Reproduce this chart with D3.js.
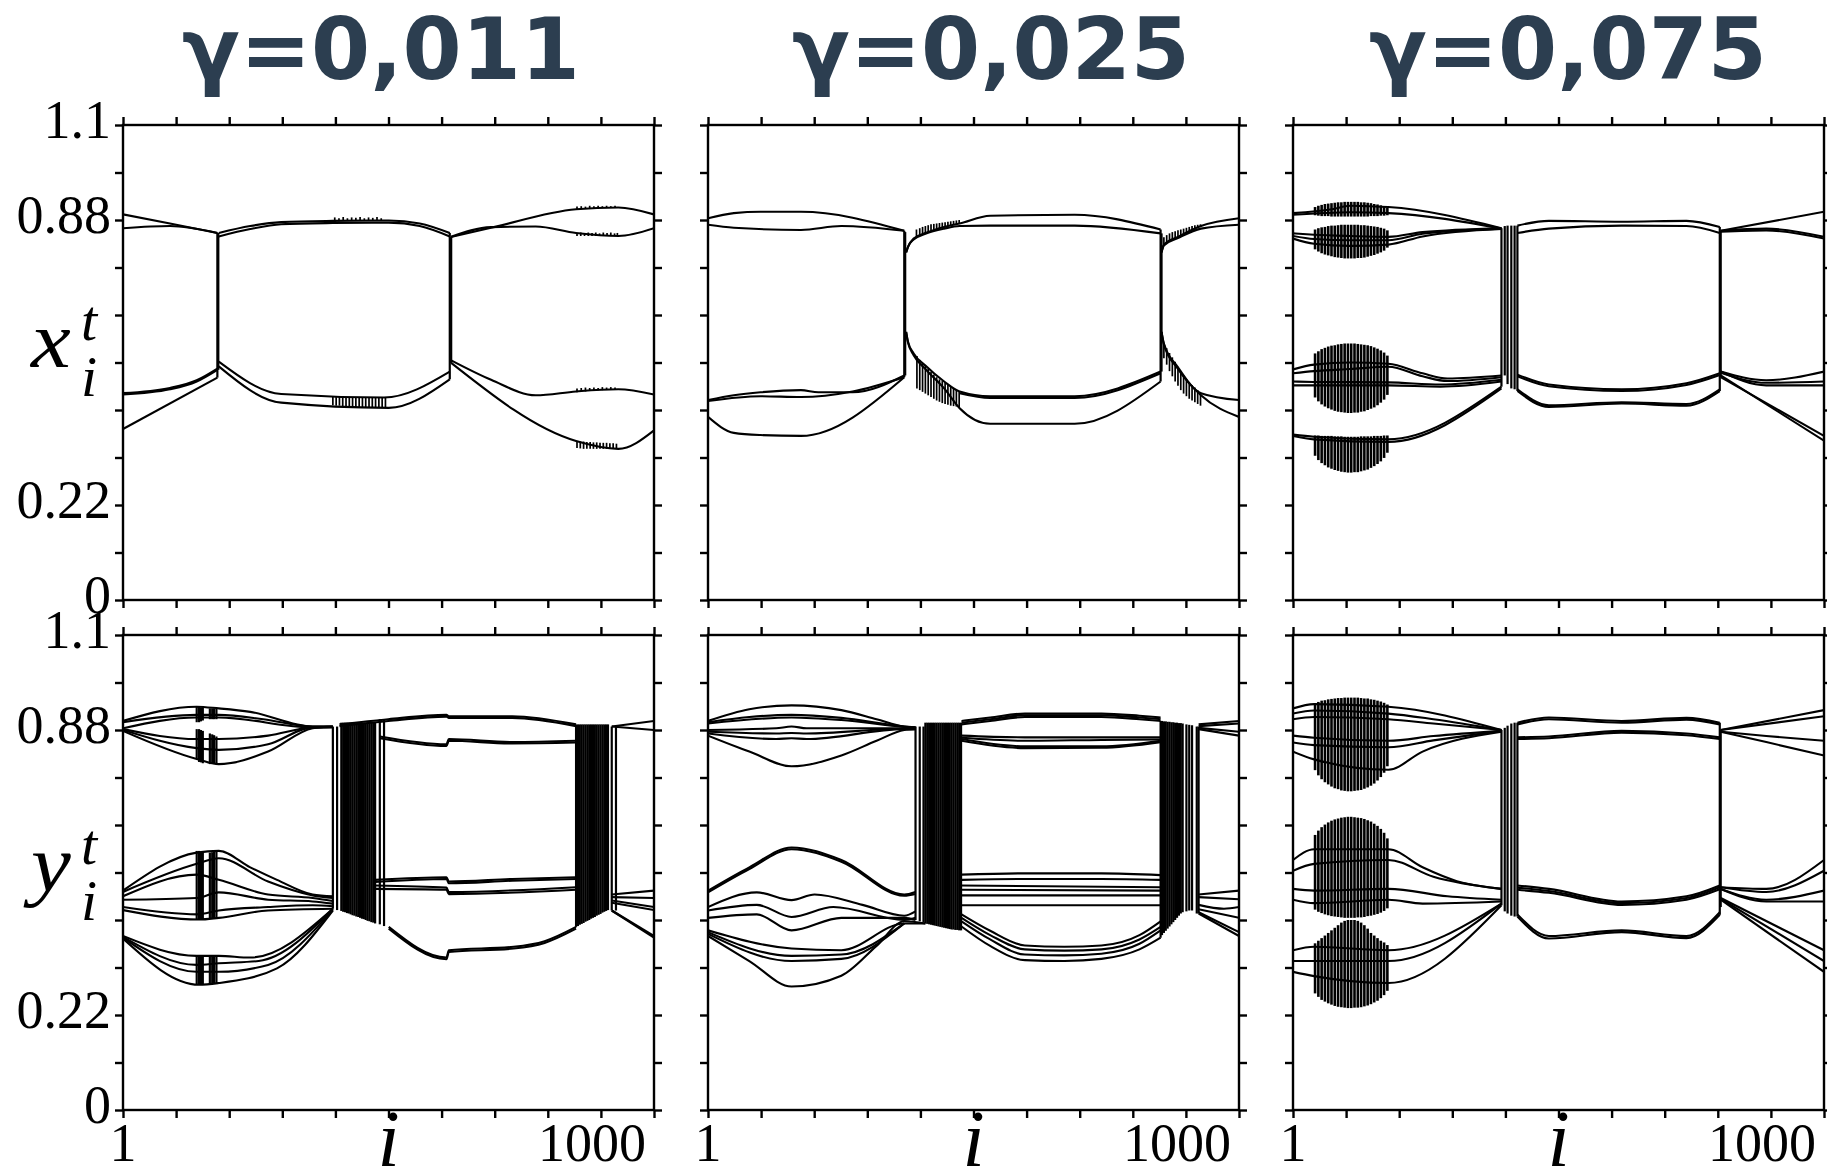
<!DOCTYPE html>
<html>
<head>
<meta charset="utf-8">
<title>Space-time plots of the lattice</title>
<script src="https://cdn.jsdelivr.net/npm/d3@7"></script>
<style>
  html, body { margin: 0; padding: 0; background: #fff; }
  svg { display: block; }
</style>
</head>
<body>
<svg id="chart" width="1827" height="1166"></svg>
<script>
// ---------- axis settings ----------
const siteDomain = [1, 1132];
const valueDomain = [0, 1.1];
const titles = ["γ=0,011", "γ=0,025", "γ=0,075"];
const yLabelValues = [1.1, 0.88, 0.22, 0];
const yLabelText = ["1.1", "0.88", "0.22", "0"];
const xLabelValues = [1, 1000];
const xLabelText = ["1", "1000"];

// ---------- γ = 0.011 : x ----------
const xCurves011 = [
  [[1,.893],[101,.872],[202,.850]],
  [[1,.861],[101,.866],[202,.850]],
  [[1,.476],[101,.488],[158,.506],[202,.533]],
  [[1,.479],[101,.491],[158,.509],[202,.536]],
  [[1,.396],[202,.515]],
  [[205,.850],[272,.866],[338,.875],[448,.878],[567,.879],[633,.872],[697,.850]],
  [[205,.842],[272,.859],[338,.870],[448,.873],[567,.874],[633,.866],[697,.842]],
  [[205,.552],[338,.477],[557,.469],[697,.529]],
  [[205,.541],[338,.457],[567,.445],[697,.511]],
  [[700,.841],[785,.862],[966,.905],[1056,.909],[1132,.893]],
  [[700,.841],[785,.8635],[880,.865],[966,.850],[1056,.843],[1132,.861]],
  [[700,.555],[785,.510],[880,.474],[966,.483],[1056,.488],[1132,.476]],
  [[700,.549],[966,.368],[1056,.350],[1132,.393]]
];
const xJumps011 = [[202,.850,.515],[204,.850,.533],[697,.850,.511],[700,.841,.549]];
const xTeeth011 = [
  [452,.877,.886],[461,.877,.884],[470,.878,.887],[479,.878,.884],[488,.878,.886],[497,.879,.885],
  [506,.879,.887],[515,.879,.884],[524,.879,.886],[533,.879,.885],[542,.879,.887],[551,.879,.884],
  [448,.470,.451],[455,.470,.450],[462,.470,.450],[469,.470,.449],[476,.470,.449],[483,.469,.448],
  [490,.469,.448],[497,.469,.447],[504,.469,.447],[511,.469,.447],[518,.469,.446],[525,.469,.446],
  [532,.469,.446],[539,.469,.446],[546,.469,.445],[553,.469,.445],[560,.469,.445],
  [968,.904,.911],[977,.905,.912],[986,.906,.911],[995,.906,.913],[1004,.907,.912],
  [1013,.907,.913],[1022,.908,.912],[1031,.908,.913],[1040,.909,.912],[1049,.909,.913],
  [968,.843,.850],[976,.843,.851],[984,.843,.849],[992,.843,.851],[1000,.843,.850],[1008,.843,.851],
  [1016,.843,.849],[1024,.843,.851],[1032,.843,.850],[1040,.843,.851],[1048,.843,.849],[1054,.843,.850],
  [968,.481,.490],[977,.482,.491],[986,.483,.492],[995,.484,.491],[1004,.485,.492],
  [1013,.486,.491],[1022,.486,.493],[1031,.487,.492],[1040,.487,.493],[1049,.488,.492],
  [968,.352,.368],[975,.351,.367],[982,.350,.367],[989,.350,.366],[996,.350,.366],[1003,.350,.365],
  [1010,.350,.365],[1017,.350,.364],[1024,.350,.364],[1031,.350,.364],[1038,.350,.363],[1045,.350,.363],[1052,.350,.362]
];

// ---------- γ = 0.011 : y ----------
const yCurves011 = [
  [[1,.901],[158,.934],[205,.930],[272,.922],[405,.888],[448,.888]],
  [[1,.898],[158,.915],[205,.915],[300,.905],[405,.888],[448,.888]],
  [[1,.884],[158,.909],[205,.909],[405,.886],[448,.887]],
  [[1,.882],[158,.859],[205,.859],[310,.867],[405,.886],[448,.887]],
  [[1,.880],[158,.838],[205,.834],[310,.847],[405,.886],[448,.886]],
  [[1,.878],[158,.813],[205,.801],[310,.830],[405,.884],[448,.888]],
  [[1,.508],[158,.596],[205,.600],[272,.562],[329,.533],[405,.499],[448,.495]],
  [[1,.505],[158,.570],[205,.583],[310,.529],[405,.497],[448,.491]],
  [[1,.495],[158,.545],[205,.533],[310,.499],[405,.491],[448,.484]],
  [[1,.487],[158,.491],[205,.504],[310,.487],[405,.483],[448,.478]],
  [[1,.470],[158,.453],[205,.462],[310,.470],[405,.474],[448,.472]],
  [[1,.463],[163,.441],[205,.445],[310,.462],[448,.466]],
  [[1,.403],[158,.357],[205,.357],[272,.353],[448,.466]],
  [[1,.401],[158,.336],[205,.340],[290,.345],[448,.466]],
  [[1,.399],[158,.320],[205,.320],[310,.336],[448,.464]],
  [[1,.397],[163,.290],[205,.294],[329,.328],[448,.462]],
  [[462,.893],[566,.905],[690,.915],[695,.912],[830,.912],[966,.893]],
  [[462,.889],[566,.901],[690,.911],[695,.908],[830,.908],[966,.889]],
  [[548,.865],[690,.847],[695,.859],[830,.852],[966,.855]],
  [[548,.861],[690,.843],[695,.855],[830,.849],[966,.851]],
  [[538,.533],[690,.539],[695,.529],[830,.535],[966,.539]],
  [[538,.528],[690,.535],[695,.525],[830,.531],[966,.535]],
  [[538,.520],[690,.515],[695,.505],[966,.516]],
  [[538,.512],[690,.510],[695,.500],[966,.510]],
  [[567,.424],[690,.353],[695,.370],[833,.378],[899,.391],[966,.424]],
  [[567,.420],[690,.349],[695,.366],[833,.374],[899,.387],[966,.420]],
  [[1042,.888],[1132,.901]],
  [[1042,.888],[1132,.880]],
  [[1042,.499],[1132,.508]],
  [[1042,.493],[1132,.491]],
  [[1042,.485],[1132,.470]],
  [[1042,.480],[1132,.463]],
  [[1042,.462],[1132,.399]],
  [[1042,.462],[1132,.403]]
];
const yJumps011 = [
  [158,.934,.898],[163,.934,.898],[167,.932,.900],[171,.931,.902],[186,.930,.905],[191,.930,.905],[195,.930,.905],[200,.930,.905],
  [158,.882,.813],[163,.882,.806],[167,.880,.805],[171,.878,.803],[186,.872,.801],[191,.870,.801],[195,.868,.801],[200,.865,.801],
  [158,.600,.441],[163,.600,.441],[167,.598,.441],[171,.596,.442],[186,.596,.443],[191,.597,.444],[195,.598,.444],[200,.600,.445],
  [158,.357,.290],[163,.357,.290],[167,.356,.291],[171,.356,.291],[186,.357,.292],[191,.357,.293],[195,.357,.293],[200,.357,.294],
  [448,.888,.466],[457,.888,.463],
  [466,.897,.461],[470,.897,.459],[474,.897,.458],[478,.897,.456],[482,.897,.455],[486,.897,.453],[490,.897,.451],
  [494,.897,.450],[498,.897,.448],[502,.897,.447],[506,.897,.445],[510,.897,.443],[514,.897,.442],[518,.897,.440],
  [522,.897,.438],[526,.897,.437],[530,.897,.435],[534,.897,.434],[538,.897,.432],
  [548,.905,.430],[557,.905,.426],
  [966,.893,.424],[970,.893,.426],[974,.893,.429],[978,.893,.431],[982,.893,.433],[986,.893,.436],[990,.893,.438],
  [994,.893,.440],[998,.893,.443],[1002,.893,.445],[1006,.893,.447],[1010,.893,.450],[1014,.893,.452],[1018,.893,.454],
  [1022,.893,.457],[1026,.893,.459],[1030,.893,.461],[1034,.893,.463],
  [1042,.888,.462],[1051,.888,.462]
];

// ---------- γ = 0.025 : x ----------
const xCurves025 = [
  [[1,.884],[56,.896],[113,.899],[199,.899],[419,.855]],
  [[1,.869],[56,.862],[199,.857],[285,.866],[419,.855]],
  [[1,.463],[56,.474],[113,.481],[199,.486],[236,.481],[309,.481],[419,.520]],
  [[1,.461],[113,.472],[199,.470],[309,.483],[419,.516]],
  [[1,.424],[56,.387],[113,.382],[199,.380],[419,.516]],
  [[423,.805],[427,.818],[439,.837],[464,.850],[504,.864],[537,.872],[602,.890],[782,.892],[965,.858]],
  [[423,.805],[427,.818],[439,.835],[464,.848],[504,.860],[537,.866],[602,.867],[782,.867],[965,.849]],
  [[423,.621],[427,.598],[439,.571],[464,.543],[504,.506],[537,.483],[602,.472],[782,.472],[965,.529]],
  [[537,.479],[602,.468],[782,.468],[965,.525]],
  [[423,.621],[427,.596],[439,.567],[464,.535],[504,.490],[537,.444],[602,.408],[782,.408],[965,.506]],
  [[967,.805],[972,.823],[1002,.841],[1051,.866],[1132,.884]],
  [[967,.805],[972,.821],[1002,.838],[1051,.860],[1132,.869]],
  [[967,.621],[972,.594],[1002,.539],[1051,.479],[1132,.463]],
  [[967,.621],[972,.592],[1002,.535],[1051,.474],[1132,.424]]
];
const xJumps025 = [[419,.855,.516],[421,.852,.520],[965,.858,.506],[967,.849,.529]];
const xTeeth025 = [
  [445,.840,.858],[452,.844,.861],[458,.847,.864],[464,.850,.866],[470,.852,.868],[476,.855,.870],[482,.857,.871],[488,.859,.872],
  [494,.861,.873],[500,.863,.874],[506,.864,.875],[512,.866,.876],[518,.868,.877],[524,.869,.878],[530,.871,.879],[536,.872,.880],
  [446,.565,.490],[452,.556,.486],[458,.549,.482],[464,.543,.478],[470,.535,.474],[476,.528,.470],[482,.522,.466],[488,.516,.462],
  [494,.511,.459],[500,.507,.456],[506,.504,.454],[512,.500,.452],[518,.495,.450],[524,.490,.449],[530,.487,.448],[536,.484,.447],
  [972,.823,.840],[978,.828,.845],[984,.832,.849],[990,.835,.852],[996,.837,.854],[1002,.840,.856],[1008,.843,.858],
  [1014,.846,.860],[1020,.849,.862],[1026,.852,.864],[1032,.855,.866],[1038,.858,.868],[1044,.861,.869],[1050,.864,.870],
  [972,.594,.560],[978,.583,.545],[984,.572,.530],[990,.562,.518],[996,.552,.506],[1002,.540,.496],[1008,.530,.486],
  [1014,.520,.478],[1020,.512,.472],[1026,.505,.466],[1032,.498,.462],[1038,.492,.458],[1044,.486,.454],[1050,.480,.450]
];

// ---------- γ = 0.025 : y ----------
const yCurves025 = [
  [[1,.901],[89,.928],[179,.937],[285,.926],[360,.905],[419,.888],[443,.886]],
  [[1,.898],[89,.910],[179,.915],[285,.908],[419,.888],[443,.886]],
  [[1,.895],[179,.909],[285,.903],[419,.887],[443,.885]],
  [[1,.880],[146,.884],[179,.888],[211,.884],[419,.884],[443,.884]],
  [[1,.876],[146,.872],[179,.873],[211,.872],[419,.883],[443,.883]],
  [[1,.872],[146,.859],[179,.861],[211,.859],[419,.882],[443,.882]],
  [[1,.867],[89,.830],[179,.796],[285,.821],[360,.855],[419,.880],[443,.882]],
  [[1,.508],[89,.562],[179,.608],[285,.579],[419,.499],[443,.505]],
  [[1,.504],[89,.558],[179,.604],[285,.575],[419,.496],[443,.500]],
  [[1,.470],[105,.504],[179,.486],[228,.499],[330,.475],[419,.450],[443,.460]],
  [[1,.462],[105,.475],[179,.447],[268,.470],[419,.440],[443,.445]],
  [[1,.445],[105,.453],[179,.416],[285,.445],[419,.445],[443,.440]],
  [[1,.416],[179,.374],[285,.370],[419,.432],[464,.432]],
  [[1,.412],[179,.357],[285,.360],[419,.432]],
  [[1,.408],[179,.345],[285,.350],[419,.432]],
  [[1,.403],[89,.345],[179,.286],[285,.311],[360,.380],[419,.437],[464,.432]],
  [[541,.901],[602,.909],[676,.918],[839,.918],[920,.913],[965,.909]],
  [[541,.897],[602,.905],[676,.914],[839,.914],[920,.909],[965,.905]],
  [[541,.893],[602,.901],[676,.910],[839,.910],[920,.905],[965,.901]],
  [[541,.867],[676,.863],[839,.863],[965,.863]],
  [[541,.862],[676,.855],[839,.857],[965,.858]],
  [[541,.859],[676,.842],[839,.842],[965,.855]],
  [[541,.855],[676,.838],[839,.839],[965,.852]],
  [[541,.545],[676,.548],[839,.548],[965,.544]],
  [[541,.533],[676,.535],[839,.535],[965,.533]],
  [[541,.520],[965,.516]],
  [[541,.510],[965,.508]],
  [[541,.497],[965,.497]],
  [[541,.474],[965,.474]],
  [[541,.453],[602,.415],[676,.381],[760,.378],[839,.381],[920,.405],[965,.437]],
  [[541,.445],[602,.405],[676,.372],[760,.369],[839,.372],[920,.395],[965,.424]],
  [[541,.437],[602,.395],[676,.360],[760,.358],[839,.362],[920,.385],[965,.416]],
  [[541,.425],[602,.380],[676,.347],[760,.345],[839,.350],[920,.372],[965,.399]],
  [[1046,.893],[1132,.901]],
  [[1046,.889],[1132,.895]],
  [[1046,.885],[1132,.876]],
  [[1046,.882],[1132,.867]],
  [[1046,.499],[1132,.508]],
  [[1046,.493],[1132,.488]],
  [[1046,.475],[1100,.466],[1132,.470]],
  [[1046,.465],[1132,.445]],
  [[1046,.455],[1132,.403]],
  [[1046,.458],[1132,.412]]
];
const yJumps025 = [
  [443,.888,.440],[452,.888,.437],[460,.888,.435],
  [464,.897,.432],[468,.897,.431],[472,.897,.430],[476,.897,.429],[480,.897,.428],[484,.897,.427],[488,.897,.426],
  [492,.897,.425],[496,.897,.424],[500,.897,.423],[504,.897,.422],[508,.897,.421],[512,.897,.420],[516,.897,.419],
  [520,.897,.418],[524,.897,.418],[528,.897,.417],[532,.897,.417],[536,.897,.416],[540,.897,.416],
  [965,.901,.399],[968,.901,.405],[972,.900,.410],[976,.900,.415],[980,.899,.420],[984,.899,.425],[988,.898,.430],
  [992,.898,.435],[996,.897,.440],[1000,.897,.445],[1004,.896,.450],[1008,.896,.455],[1012,.895,.458],
  [1020,.893,.460],[1026,.892,.462],[1032,.891,.462],
  [1042,.888,.455],[1046,.888,.455]
];

// ---------- γ = 0.075 : x ----------
const xCurves075 = [
  [[1,.896],[84,.905],[123,.913],[161,.912],[204,.910],[445,.861]],
  [[1,.892],[123,.898],[204,.896],[445,.860]],
  [[1,.849],[46,.846],[123,.843],[204,.841],[277,.852],[445,.861]],
  [[1,.843],[46,.836],[123,.833],[204,.833],[277,.848],[445,.860]],
  [[1,.837],[46,.825],[123,.820],[204,.823],[277,.842],[445,.859]],
  [[1,.534],[46,.545],[123,.550],[204,.547],[277,.525],[330,.513],[445,.520]],
  [[1,.525],[46,.530],[123,.535],[204,.540],[277,.518],[330,.507],[445,.516]],
  [[1,.506],[46,.505],[204,.504],[315,.499],[445,.510]],
  [[1,.497],[46,.497],[204,.497],[315,.494],[445,.506]],
  [[1,.383],[46,.378],[204,.372],[445,.494]],
  [[1,.380],[46,.372],[204,.366],[445,.490]],
  [[479,.867],[546,.878],[701,.876],[839,.878],[910,.864]],
  [[479,.850],[546,.860],[701,.867],[839,.866],[910,.850]],
  [[479,.522],[546,.499],[701,.488],[839,.502],[910,.525]],
  [[479,.518],[546,.495],[701,.484],[839,.498],[910,.521]],
  [[479,.488],[546,.451],[701,.458],[839,.454],[910,.488]],
  [[479,.484],[546,.447],[701,.455],[839,.450],[910,.484]],
  [[912,.855],[1132,.899]],
  [[912,.855],[1009,.860],[1132,.841]],
  [[912,.853],[1009,.856],[1132,.837]],
  [[912,.529],[1009,.509],[1132,.529]],
  [[912,.529],[1009,.497],[1132,.497]],
  [[912,.526],[1009,.503],[1132,.506]],
  [[912,.520],[1132,.369]],
  [[912,.516],[1132,.380]]
];
const xJumps075 = [[445,.861,.494],[452,.866,.520],[458,.867,.500],[466,.867,.490],[473,.867,.488],[479,.867,.484],[910,.864,.484],[912,.855,.516]];

// sites of the fast-oscillating clusters near the left edge
const blobSites = [48,55,62,69,76,83,90,97,104,111,118,125,132,139,146,153,160,167,174,181,188,195,202];
const xBlobs075 = [
  [[.910,.913,.915,.917,.918,.919,.920,.921,.921,.922,.922,.922,.922,.922,.921,.921,.920,.919,.917,.916,.914,.911,.908],
   [.891,.890,.889,.889,.889,.888,.888,.888,.888,.888,.888,.888,.888,.888,.888,.888,.888,.889,.889,.889,.890,.890,.891]],
  [[.858,.861,.863,.864,.866,.867,.867,.868,.869,.869,.869,.869,.869,.869,.868,.868,.867,.866,.865,.864,.862,.860,.856],
   [.812,.807,.803,.800,.798,.796,.794,.793,.792,.791,.791,.791,.791,.792,.792,.793,.795,.797,.799,.802,.805,.809,.816]],
  [[.571,.576,.581,.584,.587,.589,.590,.592,.593,.594,.594,.594,.594,.593,.592,.591,.590,.588,.585,.582,.578,.573,.566],
   [.469,.460,.453,.448,.444,.441,.438,.436,.435,.434,.433,.433,.434,.434,.436,.437,.440,.443,.446,.451,.457,.464,.475]],
  [[.381,.381,.380,.380,.380,.380,.379,.379,.379,.378,.378,.378,.378,.378,.379,.379,.379,.379,.380,.380,.380,.381,.381],
   [.334,.324,.317,.312,.307,.304,.301,.299,.297,.296,.295,.295,.296,.296,.298,.300,.302,.306,.310,.315,.321,.329,.341]]
];

// ---------- γ = 0.075 : y ----------
const yCurves075 = [
  [[1,.930],[46,.940],[204,.934],[445,.880]],
  [[1,.918],[46,.925],[204,.918],[300,.905],[445,.880]],
  [[1,.905],[46,.910],[204,.905],[300,.895],[445,.880]],
  [[1,.867],[46,.862],[204,.855],[300,.866],[445,.878]],
  [[1,.851],[46,.845],[204,.840],[300,.856],[445,.878]],
  [[1,.830],[46,.812],[204,.788],[277,.830],[445,.876]],
  [[1,.579],[46,.604],[204,.604],[277,.562],[350,.530],[445,.512]],
  [[1,.554],[46,.570],[204,.579],[300,.540],[445,.512]],
  [[1,.512],[46,.508],[204,.512],[330,.495],[445,.487]],
  [[1,.487],[46,.479],[204,.487],[277,.478],[445,.483]],
  [[1,.370],[46,.378],[204,.370],[445,.478]],
  [[1,.345],[46,.345],[204,.345],[445,.478]],
  [[1,.320],[46,.310],[204,.294],[445,.474]],
  [[479,.897],[546,.909],[701,.901],[839,.908],[910,.897]],
  [[479,.893],[546,.905],[701,.897],[839,.904],[910,.893]],
  [[479,.863],[546,.865],[701,.878],[839,.872],[910,.863]],
  [[479,.859],[546,.861],[701,.874],[839,.868],[910,.859]],
  [[479,.520],[546,.512],[701,.483],[839,.495],[910,.520]],
  [[479,.515],[546,.507],[701,.479],[839,.491],[910,.516]],
  [[479,.510],[546,.503],[701,.475],[839,.487],[910,.511]],
  [[479,.453],[546,.403],[701,.416],[839,.403],[910,.458]],
  [[479,.448],[546,.397],[701,.412],[839,.398],[910,.452]],
  [[912,.880],[1132,.926]],
  [[912,.880],[1132,.912]],
  [[912,.876],[1009,.866],[1132,.855]],
  [[912,.876],[1009,.852],[1132,.821]],
  [[912,.516],[1009,.512],[1132,.579]],
  [[912,.516],[1009,.505],[1132,.554]],
  [[912,.512],[1009,.487],[1132,.508]],
  [[912,.512],[1009,.483],[1132,.483]],
  [[912,.491],[1132,.370]],
  [[912,.489],[1132,.345]],
  [[912,.487],[1132,.320]]
];
const yJumps075 = [[445,.880,.474],[452,.885,.460],[458,.890,.455],[466,.895,.450],[473,.897,.448],[479,.897,.448],[910,.897,.452],[912,.880,.470]];
const yBlobs075 = [
  [[.942,.945,.948,.949,.951,.952,.953,.954,.954,.955,.955,.955,.955,.955,.954,.953,.953,.951,.950,.948,.946,.943,.939],
   [.787,.775,.766,.759,.754,.749,.745,.743,.740,.739,.738,.738,.739,.740,.741,.744,.747,.751,.756,.763,.771,.781,.796]],
  [[.637,.647,.655,.661,.666,.670,.673,.675,.677,.678,.679,.679,.678,.677,.676,.674,.671,.668,.663,.658,.651,.642,.629],
   [.464,.459,.456,.453,.451,.449,.448,.447,.446,.445,.445,.445,.445,.446,.446,.447,.449,.450,.452,.454,.457,.461,.467]],
  [[.386,.392,.398,.404,.410,.416,.422,.428,.434,.438,.440,.440,.440,.438,.434,.428,.420,.410,.404,.398,.392,.388,.382],
   [.270,.262,.255,.251,.247,.244,.241,.239,.238,.237,.236,.236,.237,.237,.238,.240,.242,.245,.249,.253,.259,.266,.276]]
];

// ---------- layout ----------
const svg = d3.select("#chart");
const colLeft = [123, 708, 1293];
const rowTop = [125, 635];
const pw = 531, ph = 475;
const titleCenters = [381, 991, 1568];
const serif = "'Liberation Serif', 'Times New Roman', serif";

const panels = [
  {col: 0, row: 0, curves: xCurves011, jumps: xJumps011, fine: xTeeth011, blobs: []},
  {col: 0, row: 1, curves: yCurves011, jumps: yJumps011, fine: [], blobs: []},
  {col: 1, row: 0, curves: xCurves025, jumps: xJumps025, fine: xTeeth025, blobs: []},
  {col: 1, row: 1, curves: yCurves025, jumps: yJumps025, fine: [], blobs: []},
  {col: 2, row: 0, curves: xCurves075, jumps: xJumps075, fine: [], blobs: xBlobs075},
  {col: 2, row: 1, curves: yCurves075, jumps: yJumps075, fine: [], blobs: yBlobs075}
];

const xTickSites = d3.range(11).map(k => siteDomain[0] + k * (siteDomain[1] - siteDomain[0]) / 10);
const yTickVals = d3.range(11).map(k => +(k * 0.11).toFixed(2));

function styleAxis(g) {
  g.select("path.domain").remove();
  g.selectAll(".tick line").attr("stroke", "#000").attr("stroke-width", 2.4);
  g.selectAll(".tick text").remove();
}

panels.forEach((p, idx) => {
  const x0 = colLeft[p.col], y0 = rowTop[p.row];
  const x = d3.scaleLinear().domain(siteDomain).range([x0, x0 + pw]);
  const y = d3.scaleLinear().domain(valueDomain).range([y0 + ph, y0]);

  svg.append("clipPath").attr("id", "clip" + idx)
    .append("rect").attr("x", x0).attr("y", y0).attr("width", pw).attr("height", ph);

  const g = svg.append("g").attr("clip-path", `url(#clip${idx})`);

  const line = d3.line().x(d => x(d[0])).y(d => y(d[1])).curve(d3.curveMonotoneX);

  g.append("g").selectAll("path").data(p.curves).join("path")
    .attr("d", line).attr("fill", "none").attr("stroke", "#000")
    .attr("stroke-width", 2.1).attr("stroke-linejoin", "round");

  g.append("g").selectAll("line").data(p.jumps).join("line")
    .attr("x1", d => x(d[0])).attr("x2", d => x(d[0]))
    .attr("y1", d => y(d[1])).attr("y2", d => y(d[2]))
    .attr("stroke", "#000").attr("stroke-width", 2.2);

  g.append("g").selectAll("line").data(p.fine).join("line")
    .attr("x1", d => x(d[0])).attr("x2", d => x(d[0]))
    .attr("y1", d => y(d[1])).attr("y2", d => y(d[2]))
    .attr("stroke", "#000").attr("stroke-width", 1.7);

  p.blobs.forEach(([tops, bottoms]) => {
    g.append("g").selectAll("line").data(blobSites.map((s, k) => [s, tops[k], bottoms[k]])).join("line")
      .attr("x1", d => x(d[0])).attr("x2", d => x(d[0]))
      .attr("y1", d => y(d[1])).attr("y2", d => y(d[2]))
      .attr("stroke", "#000").attr("stroke-width", 2.6);
  });

  // ticks on all four sides, pointing outward
  svg.append("g").attr("transform", `translate(0,${y0 + ph})`)
    .call(d3.axisBottom(x).tickValues(xTickSites).tickSize(8).tickSizeOuter(0)).call(styleAxis);
  svg.append("g").attr("transform", `translate(0,${y0})`)
    .call(d3.axisTop(x).tickValues(xTickSites).tickSize(8).tickSizeOuter(0)).call(styleAxis);
  svg.append("g").attr("transform", `translate(${x0},0)`)
    .call(d3.axisLeft(y).tickValues(yTickVals).tickSize(8).tickSizeOuter(0)).call(styleAxis);
  svg.append("g").attr("transform", `translate(${x0 + pw},0)`)
    .call(d3.axisRight(y).tickValues(yTickVals).tickSize(8).tickSizeOuter(0)).call(styleAxis);

  svg.append("rect").attr("x", x0).attr("y", y0).attr("width", pw).attr("height", ph)
    .attr("fill", "none").attr("stroke", "#000").attr("stroke-width", 2.4);

  // value labels on the left column
  if (p.col === 0) {
    svg.append("g").selectAll("text").data(yLabelValues).join("text")
      .attr("x", x0 - 12).attr("y", d => y(d) + 13)
      .attr("text-anchor", "end").attr("font-family", serif).attr("font-size", 54)
      .attr("fill", "#000").text((d, k) => yLabelText[k]);

    const base = p.row === 0 ? 367 : 891;
    const lab = svg.append("g").attr("font-family", serif).attr("font-style", "italic").attr("fill", "#000");
    lab.append("text").attr("transform", `translate(31,${base}) scale(1.12,1)`)
      .attr("font-size", 80).text(p.row === 0 ? "x" : "y");
    lab.append("text").attr("x", 81).attr("y", base - 27).attr("font-size", 58).text("t");
    lab.append("text").attr("x", 81).attr("y", base + 29).attr("font-size", 58).text("i");
  }

  // site labels on the bottom row
  if (p.row === 1) {
    svg.append("g").selectAll("text").data(xLabelValues).join("text")
      .attr("x", d => x(d)).attr("y", 1161)
      .attr("text-anchor", "middle").attr("font-family", serif).attr("font-size", 54)
      .attr("fill", "#000").text((d, k) => xLabelText[k]);
    svg.append("text").attr("x", x0 + pw / 2).attr("y", 1166)
      .attr("text-anchor", "middle").attr("font-family", serif).attr("font-style", "italic")
      .attr("font-size", 80).attr("fill", "#000").text("i");
  }

  if (p.row === 0) {
    svg.append("text").attr("x", titleCenters[p.col]).attr("y", 79)
      .attr("text-anchor", "middle").attr("font-family", "'DejaVu Sans', sans-serif")
      .attr("font-weight", "bold").attr("font-size", 85).attr("fill", "#2c3e50")
      .text(titles[p.col]);
  }
});
</script>
</body>
</html>
